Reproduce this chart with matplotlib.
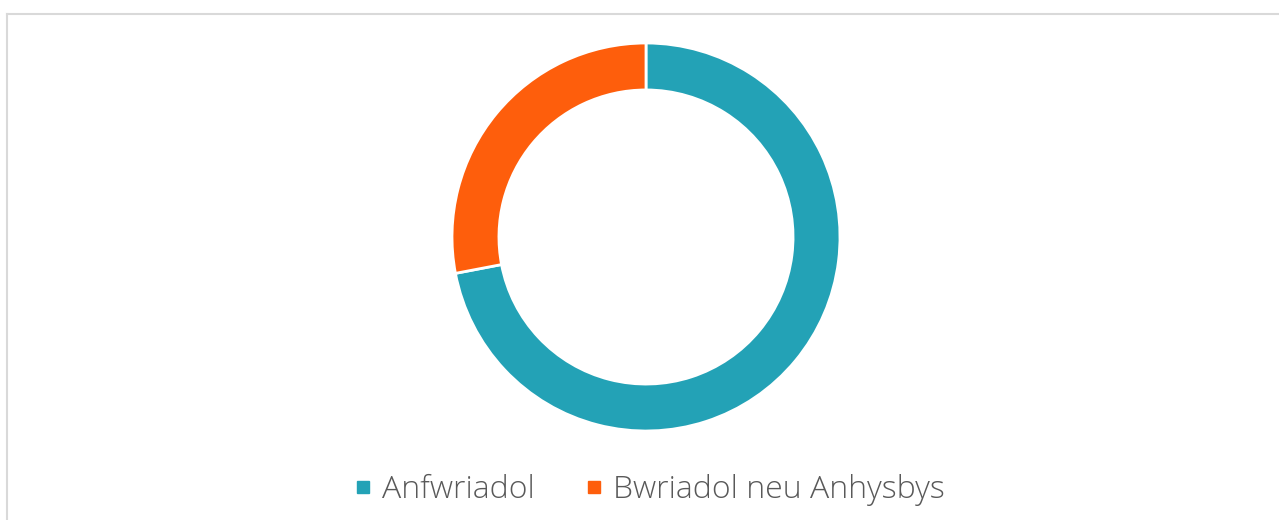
import matplotlib
matplotlib.use("Agg")
import matplotlib.pyplot as plt
from matplotlib.lines import Line2D

labels = ["Anfwriadol", "Bwriadol neu Anhysbys"]
values = [72, 28]
colors = ["#23A2B6", "#FE5E0C"]

plt.rcParams["font.family"] = ["Open Sans", "DejaVu Sans"]

fig = plt.figure(figsize=(12.79, 5.2), dpi=100)

# light frame around the chart area (left and top edges are visible)
border = "#D9D9D9"
fig.add_artist(Line2D([6.5 / 1279, 6.5 / 1279], [0, 1 - 13.5 / 520], color=border, lw=1.5))
fig.add_artist(Line2D([6.5 / 1279, 1], [1 - 13.5 / 520, 1 - 13.5 / 520], color=border, lw=1.5))

ax = fig.add_axes([452 / 1279, 89 / 520, 388 / 1279, 388 / 520])
ax.pie(
    values,
    colors=colors,
    startangle=90,
    counterclock=False,
    radius=1.0,
    wedgeprops=dict(width=0.242, edgecolor="white", linewidth=2),
)
ax.set_xlim(-1, 1)
ax.set_ylim(-1, 1)
ax.set_aspect("equal")
ax.axis("off")

handles = [
    Line2D([], [], marker="s", linestyle="none", markersize=8.6,
           markerfacecolor=c, markeredgecolor=c)
    for c in colors
]
fig.legend(
    handles,
    labels,
    loc="center",
    bbox_to_anchor=(650 / 1279, 1 - 490 / 520),
    ncol=2,
    frameon=False,
    labelcolor="#595959",
    handlelength=0.5,
    handletextpad=0.35,
    columnspacing=1.6,
    prop={"size": 23, "weight": "light"},
)

fig.savefig("out.png", dpi=100, facecolor="white")
